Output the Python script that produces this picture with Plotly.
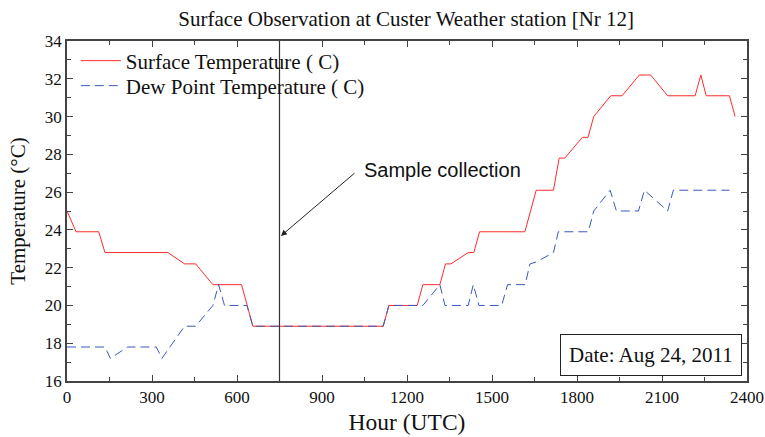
import plotly.graph_objects as go

# Surface temperature (red)
t_hour = [0, 32, 112, 134, 356, 415, 454, 515, 616, 656, 1116, 1136, 1236, 1256, 1316, 1336,
          1355, 1416, 1436, 1456, 1616, 1656, 1717, 1737, 1757, 1819, 1839, 1859, 1919, 1959,
          2020, 2060, 2120, 2217, 2237, 2256, 2338, 2358]
t_temp = [25.0, 23.9, 23.9, 22.8, 22.8, 22.2, 22.2, 21.1, 21.1, 18.9, 18.9, 20.0, 20.0, 21.1, 21.1, 22.2,
          22.2, 22.8, 22.8, 23.9, 23.9, 26.1, 26.1, 27.8, 27.8, 28.9, 28.9, 30.0, 31.1, 31.1,
          32.2, 32.2, 31.1, 31.1, 32.2, 31.1, 31.1, 30.0]

# Dew point temperature (blue dashed)
d_hour = [0, 134, 153, 214, 315, 335, 415, 454, 515, 535, 556, 635, 656, 1116, 1136, 1256,
          1316, 1334, 1416, 1434, 1454, 1534, 1555, 1617, 1634, 1656, 1717, 1734, 1840, 1859,
          1917, 1939, 2017, 2038, 2120, 2140, 2338]
d_temp = [17.8, 17.8, 17.2, 17.8, 17.8, 17.2, 18.9, 18.9, 20.0, 21.1, 20.0, 20.0, 18.9, 18.9, 20.0, 20.0,
          21.1, 20.0, 20.0, 21.1, 20.0, 20.0, 21.1, 21.1, 22.2, 22.3, 22.8, 23.9, 23.9, 25.0,
          26.1, 25.0, 25.0, 26.1, 25.0, 26.1, 26.1]

sample_hour = 750
x_ticks = [0, 300, 600, 900, 1200, 1500, 1800, 2100, 2400]
y_ticks = [16, 18, 20, 22, 24, 26, 28, 30, 32, 34]

serif = "Liberation Serif"
fig = go.Figure()
fig.add_trace(go.Scatter(x=t_hour, y=t_temp, mode="lines", name="Surface Temperature ( C)",
                         line=dict(color="#ff2a2a", width=1), legend="legend"))
fig.add_trace(go.Scatter(x=d_hour, y=d_temp, mode="lines", name="Dew Point Temperature ( C)",
                         line=dict(color="#3a58c0", width=1, dash="9px,5px"), legend="legend2"))

fig.add_shape(type="line", x0=sample_hour, x1=sample_hour, y0=16, y1=34, xref="x", yref="y",
              line=dict(color="#333333", width=1.2))

fig.add_annotation(x=755, y=23.68, xref="x", yref="y",
                   ax=1020, ay=27.07, axref="x", ayref="y",
                   showarrow=True, arrowhead=2, arrowsize=1.2, arrowwidth=1, arrowcolor="#222",
                   text="")
fig.add_annotation(x=1326, y=27.15, xref="x", yref="y", text="Sample collection", showarrow=False,
                   font=dict(family="Liberation Sans", size=20, color="#111"))

fig.add_annotation(x=0.9926, y=0.0147, xref="paper", yref="paper", xanchor="right", yanchor="bottom",
                   text="Date: Aug 24, 2011", showarrow=False, bordercolor="#222", borderwidth=1,
                   borderpad=8, bgcolor="white", font=dict(family=serif, size=21, color="#111"))

axis_common = dict(showline=True, linecolor="#444", linewidth=1.5, mirror="allticks", ticks="inside",
                   ticklen=6, tickcolor="#444", showgrid=False, zeroline=False, automargin=False,
                   tickfont=dict(family=serif, size=17, color="#111"))
fig.update_xaxes(range=[0, 2400], tickvals=x_ticks,
                 title=dict(text="Hour (UTC)", font=dict(family=serif, size=23.5, color="#111"), standoff=7),
                 minor=dict(ticks="inside", dtick=150, ticklen=4, tickcolor="#444"), **axis_common)
fig.update_yaxes(range=[16, 34], tickvals=y_ticks,
                 title=dict(text="Temperature (°C)", font=dict(family=serif, size=21, color="#111"), standoff=13),
                 minor=dict(ticks="inside", dtick=1, ticklen=4, tickcolor="#444"), **axis_common)

leg_common = dict(xanchor="left", yanchor="middle", bgcolor="rgba(0,0,0,0)",
                  font=dict(family=serif, size=21, color="#111"), itemwidth=40)
fig.update_layout(
    width=765, height=437, margin=dict(l=67, r=18, t=41, b=56),
    paper_bgcolor="white", plot_bgcolor="white",
    title=dict(text="Surface Observation at Custer Weather station [Nr 12]", x=0.531, xanchor="center",
               y=0.957, yanchor="middle", font=dict(family=serif, size=21, color="#111")),
    legend=dict(x=0.013, y=(381 - 61) / 340, **leg_common),
    legend2=dict(x=0.013, y=(381 - 86) / 340, **leg_common),
    showlegend=True,
)
fig.write_html("out.html")
